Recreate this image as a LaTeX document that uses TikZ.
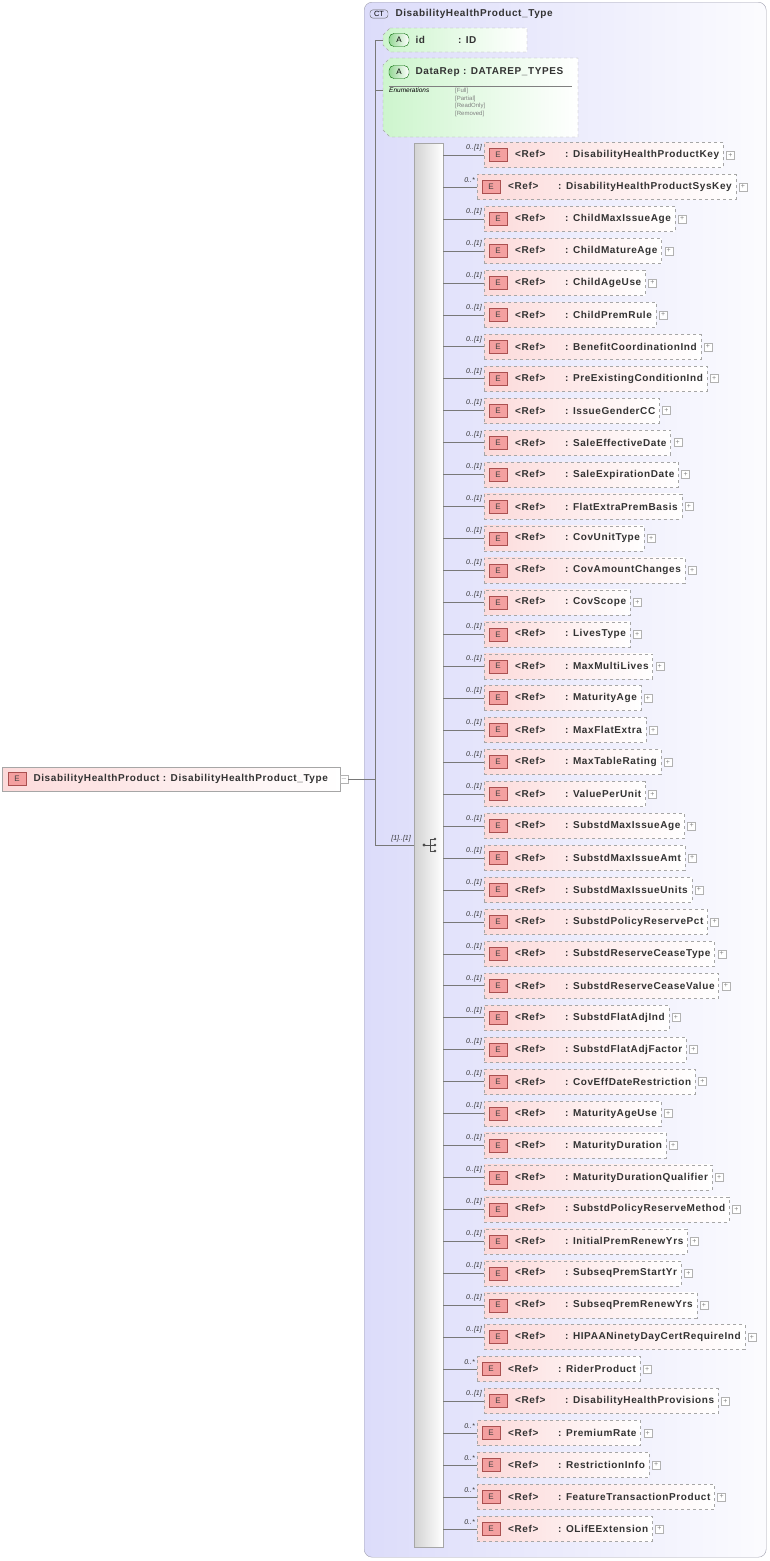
\documentclass[tikz,border=0pt]{standalone}
\usepackage{fontspec}
\setmainfont{Liberation Sans}
\newfontfamily\wide[LetterSpace=6]{Liberation Sans}
\usetikzlibrary{calc}
\definecolor{ctfill}{RGB}{220,220,250}
\definecolor{ctdraw}{RGB}{160,160,175}
\definecolor{efill}{RGB}{252,218,218}
\definecolor{ebadge}{RGB}{244,160,160}
\definecolor{ebdraw}{RGB}{170,80,80}
\definecolor{afill}{RGB}{205,245,205}
\definecolor{abadge}{RGB}{150,215,150}
\definecolor{lin}{RGB}{120,120,120}
\begin{document}
\begin{tikzpicture}[x=1pt,y=-1pt,
  wfont/.style={font=\wide\fontsize{10}{11}\selectfont\bfseries,text=black!80},
  ebox/.style={draw=gray!70,dashed,left color=efill,right color=white,minimum height=25pt,inner xsep=4pt,anchor=west,wfont},
  badge/.style={draw=ebdraw,fill=ebadge,minimum width=18pt,minimum height=13pt,inner sep=0pt,font=\fontsize{8}{9}\selectfont,text=black!75},
  plus/.style={draw=gray!60,fill=white,minimum size=8pt,inner sep=0pt,font=\fontsize{7}{7}\selectfont,text=gray},
  mult/.style={font=\fontsize{7}{8}\selectfont\itshape,anchor=south east,inner sep=1pt,text=black!80},
  conn/.style={draw=lin,line width=0.5pt}]
\useasboundingbox (0,0) rectangle (770,1561);
% CT box
\node[draw=ctdraw,rounded corners=8pt,left color=ctfill,right color=white!90!ctfill,minimum width=402pt,minimum height=1555pt,anchor=north west,inner sep=0pt] (ct) at (364,2) {};
\node[draw=black!60,fill=ctfill,rounded corners=3pt,font=\fontsize{7.5}{8}\selectfont,inner sep=1.5pt,minimum width=18pt] (ctb) at (379,14) {CT};
\node[anchor=west,wfont] (ctt) at (392,14) {DisabilityHealthProduct\_Type};
% attributes
\coordinate (jn) at (375,779);
\coordinate (ja) at (375,40);
\coordinate (js) at (375,845);
\draw[conn] (ja) -- (js);
\path[draw=gray!70,dashed,left color=afill,right color=white] (390,28) -- (527,28) -- (527,52) -- (390,52) -- (383,45) -- (383,35) -- cycle;
\draw[conn] (ja) -- (383,40);
\node[draw=green!40!black,left color=abadge,right color=white,rounded corners=5pt,minimum width=20pt,minimum height=13pt,inner sep=0pt,font=\fontsize{8}{9}\selectfont] (ab1) at (399,40) {A};
\node[anchor=west,wfont] (idt) at (412,40) {id\hspace{33pt}: ID};
\path[draw=gray!70,dashed,left color=afill,right color=white] (390,58) -- (578,58) -- (578,137) -- (390,137) -- (383,130) -- (383,65) -- cycle;
\draw[conn] (375,90) -- (383,90);
\node[draw=green!40!black,left color=abadge,right color=white,rounded corners=5pt,minimum width=20pt,minimum height=13pt,inner sep=0pt,font=\fontsize{8}{9}\selectfont] (ab2) at (399,72) {A};
\node[anchor=west,wfont] (drt) at (412,72) {DataRep : DATAREP\_TYPES};
\draw[gray] (389,86) -- (572,86);
\node[anchor=north west,font=\fontsize{6.5}{7}\selectfont\itshape,inner sep=0pt] (en) at (389,88) {Enumerations};
\node[anchor=north west,align=left,font=\fontsize{6}{7.6}\selectfont,text=gray,inner sep=0pt] (ev) at (455,88) {[Full]\\{}[Partial]\\{}[ReadOnly]\\{}[Removed]};
% main element
\node[draw=gray!70,left color=efill,right color=white,minimum width=338pt,minimum height=24pt,anchor=west,inner sep=0pt] (main) at (2,779) {};
\node[badge] (mb) at (17,779) {E};
\node[anchor=west,wfont] (mt) at (30,779) {DisabilityHealthProduct : DisabilityHealthProduct\_Type};
\node[plus] (mm) at (344,779) {$-$};
\draw[conn] (mm.east) -- (jn);
% sequence bar
\node[draw=gray!70,left color=gray!35,right color=white,minimum width=29pt,minimum height=1404pt,anchor=north west,inner sep=0pt] (bar) at (414,143) {};
\draw[conn] (js) -- (414,845);
\node[mult] (sm) at (412,843) {[1]..[1]};
\fill[black!70] (424,845) circle (1.6pt);
\draw[black!70,line width=0.8pt] (424,845) -- (430,845) (430,839) -- (430,851) (430,839) -- (435,839) (430,845) -- (435,845) (430,851) -- (435,851);
\fill[black!70] (435,839) circle (1.4pt) (435,845) circle (1.4pt) (435,851) circle (1.4pt);
% children
\foreach \m/\n [count=\i] in {
 0/DisabilityHealthProductKey, 1/DisabilityHealthProductSysKey, 0/ChildMaxIssueAge, 0/ChildMatureAge, 0/ChildAgeUse, 0/ChildPremRule, 0/BenefitCoordinationInd, 0/PreExistingConditionInd, 0/IssueGenderCC, 0/SaleEffectiveDate, 0/SaleExpirationDate, 0/FlatExtraPremBasis, 0/CovUnitType, 0/CovAmountChanges, 0/CovScope, 0/LivesType, 0/MaxMultiLives, 0/MaturityAge, 0/MaxFlatExtra, 0/MaxTableRating, 0/ValuePerUnit, 0/SubstdMaxIssueAge, 0/SubstdMaxIssueAmt, 0/SubstdMaxIssueUnits, 0/SubstdPolicyReservePct, 0/SubstdReserveCeaseType, 0/SubstdReserveCeaseValue, 0/SubstdFlatAdjInd, 0/SubstdFlatAdjFactor, 0/CovEffDateRestriction, 0/MaturityAgeUse, 0/MaturityDuration, 0/MaturityDurationQualifier, 0/SubstdPolicyReserveMethod, 0/InitialPremRenewYrs, 0/SubseqPremStartYr, 0/SubseqPremRenewYrs, 0/HIPAANinetyDayCertRequireInd, 1/RiderProduct, 0/DisabilityHealthProvisions, 1/PremiumRate, 1/RestrictionInfo, 1/FeatureTransactionProduct, 1/OLifEExtension} {
  \pgfmathsetmacro{\yy}{155+(\i-1)*31.95}
  \ifnum\m=0 \def\xx{484}\def\mt{0..[1]}\else \def\xx{477}\def\mt{0..*}\fi
  \node[ebox] (b\i) at (\xx,\yy) {\hspace*{27pt}\makebox[50pt][l]{<Ref>}: \n};
  \node[badge] (e\i) at ($(b\i.west)+(14,0)$) {E};
  \node[plus] (p\i) at ($(b\i.east)+(7,0)$) {+};
  \draw[conn] (bar.east |- b\i.west) -- (b\i.west);
  \node[mult] (m\i) at ($(b\i.west)+(-1,-3)$) {\mt};
}
\end{tikzpicture}
\end{document}
